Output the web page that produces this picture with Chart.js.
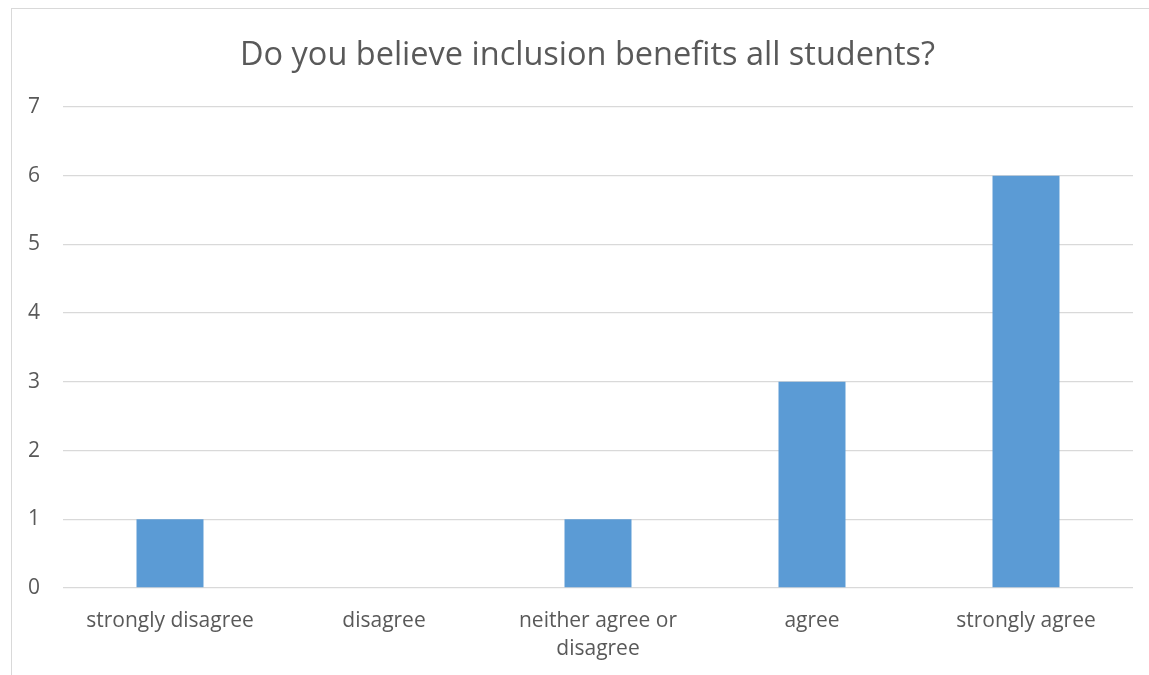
<!DOCTYPE html>
<html>
<head>
<meta charset="utf-8">
<script src="https://cdn.jsdelivr.net/npm/chart.js@4/dist/chart.umd.min.js"></script>
<style>
  html, body { margin: 0; padding: 0; background: #fff; overflow: hidden; }
  #frame { position: absolute; left: 11px; top: 8px; width: 1200px; height: 700px; border: 1px solid #d9d9d9; box-sizing: border-box; }
  #c { position: absolute; left: 0; top: 0; }
</style>
</head>
<body>
<div id="frame"></div>
<canvas id="c" width="1149" height="675"></canvas>
<script>
const titleText = "Do you believe inclusion benefits all students?";
const categories = [
  "strongly disagree",
  "disagree",
  ["neither agree or", "disagree"],
  "agree",
  "strongly agree"
];
const responses = [1, 0, 1, 3, 6];
const yTicks = [0, 1, 2, 3, 4, 5, 6, 7];

const FONT = "'Open Sans', sans-serif";
const TEXT = "#595959";
const GRID = "#d9d9d9";

// shift the title block so it is centred on the outer frame like the original
const titleShift = {
  id: "titleShift",
  afterLayout(chart) {
    const t = chart.titleBlock;
    if (t) { t.left += 21; t.right += 21; }
  }
};

new Chart(document.getElementById("c"), {
  type: "bar",
  data: {
    labels: categories,
    datasets: [{
      data: responses,
      backgroundColor: "#5B9BD5",
      borderWidth: 0,
      categoryPercentage: 1,
      barPercentage: 0.313
    }]
  },
  plugins: [titleShift],
  options: {
    responsive: false,
    animation: false,
    devicePixelRatio: 1,
    layout: { padding: { left: 0, right: 16, top: 0, bottom: 0 } },
    plugins: {
      legend: { display: false },
      tooltip: { enabled: false },
      title: {
        display: true,
        text: titleText,
        color: TEXT,
        font: { family: FONT, size: 32.5, weight: "normal", lineHeight: 1.2 },
        padding: { top: 36, bottom: 32 }
      }
    },
    scales: {
      x: {
        grid: { display: false, drawTicks: false },
        border: { display: false },
        ticks: {
          color: TEXT,
          font: { family: FONT, size: 21, lineHeight: 1.33 },
          padding: 19,
          maxRotation: 0,
          autoSkip: false
        },
        afterFit: (s) => { s.height = 87; }
      },
      y: {
        min: 0,
        max: 7,
        afterBuildTicks: (s) => { s.ticks = yTicks.map(v => ({ value: v })); },
        grid: { color: GRID, lineWidth: 1.3, drawTicks: false },
        border: { display: false },
        ticks: {
          color: TEXT,
          font: { family: FONT, size: 21 },
          padding: 23
        },
        afterFit: (s) => { s.width = 63; }
      }
    }
  }
});
</script>
</body>
</html>
